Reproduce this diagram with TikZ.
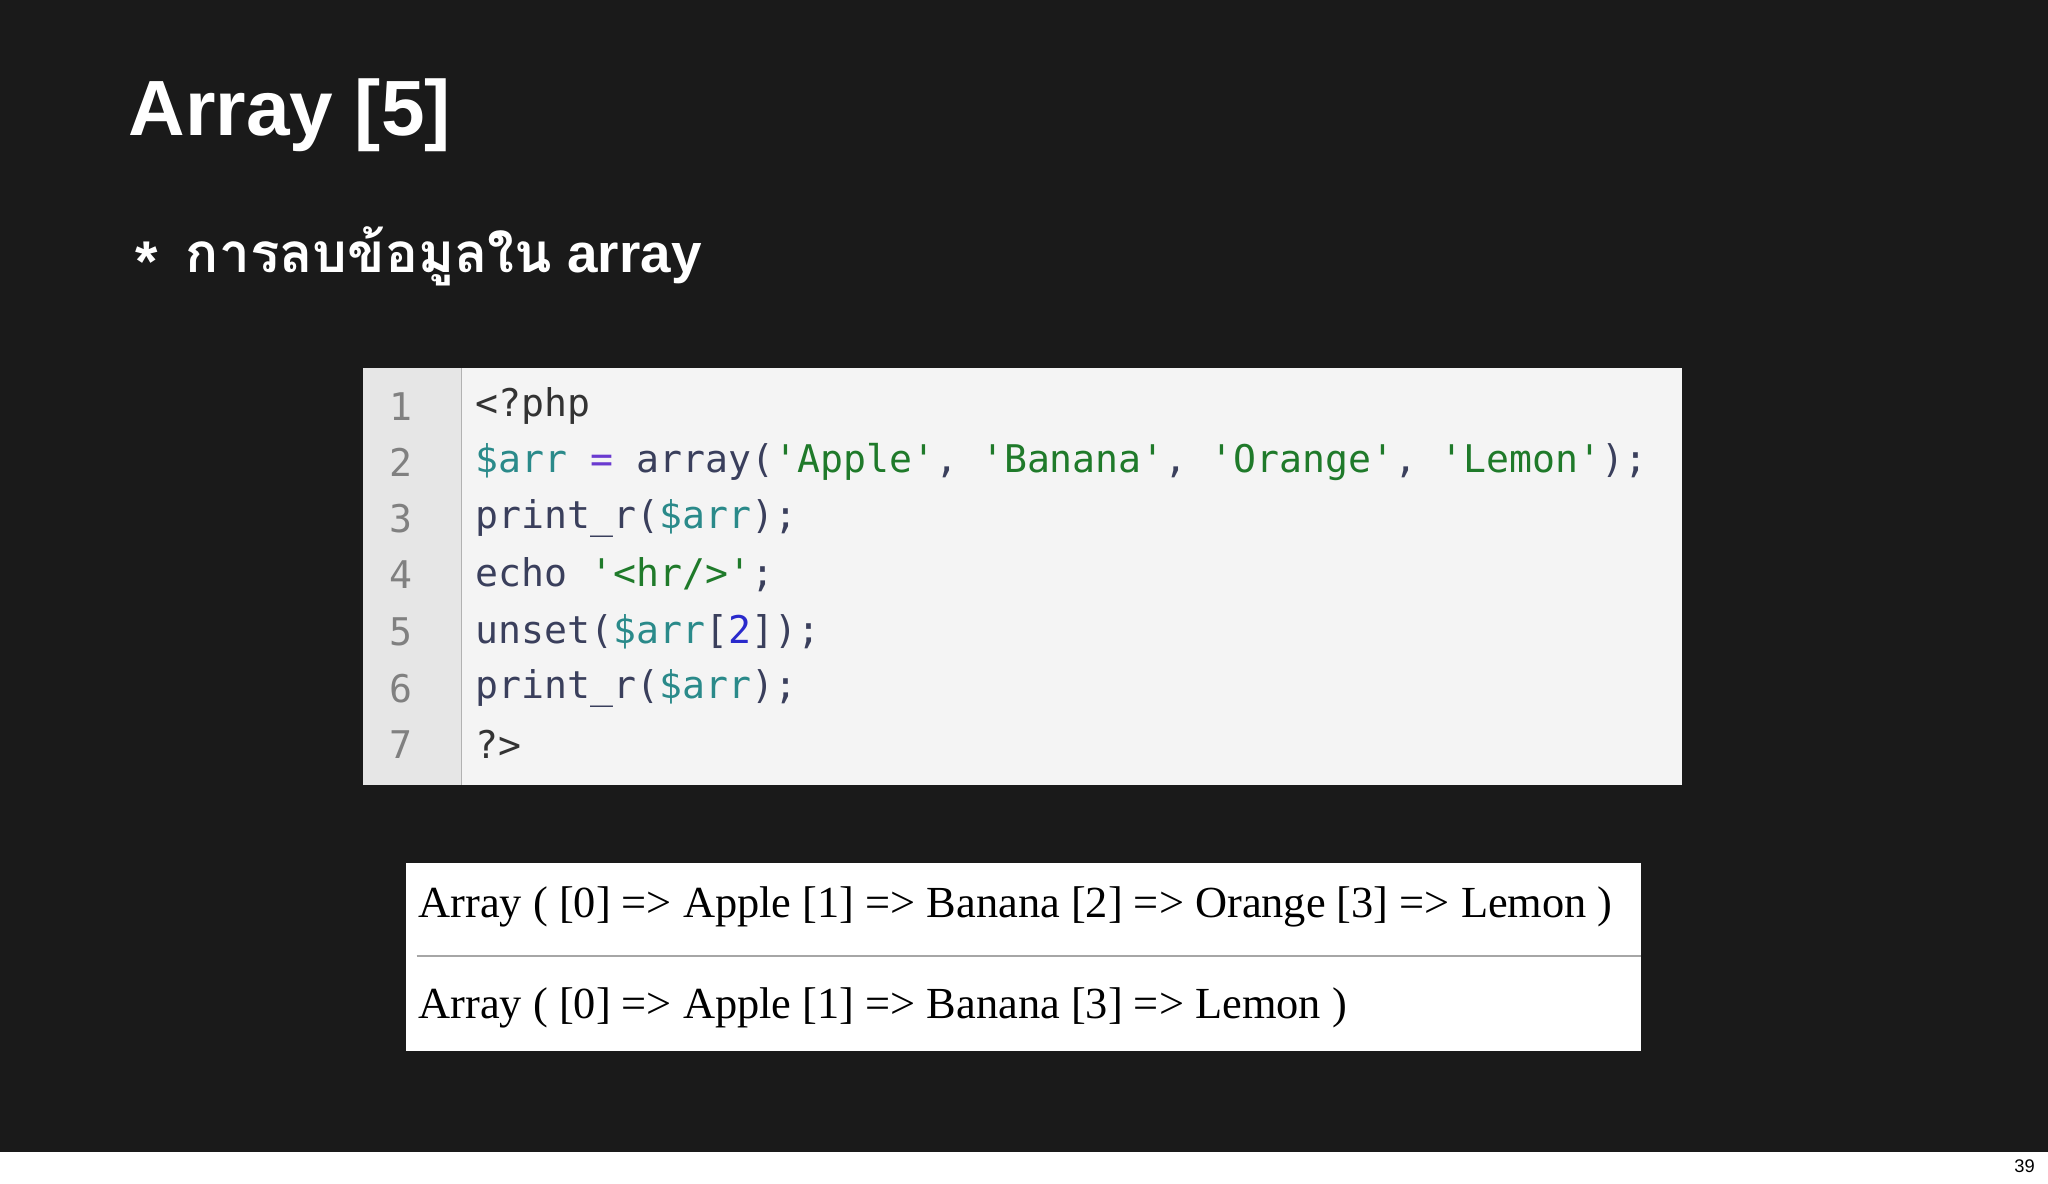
\documentclass[tikz,border=0pt]{standalone}
\usepackage{fontspec}
\setmainfont{Liberation Sans}
\newfontfamily\thaifont[Script=Thai]{Loma}
\newfontfamily\codefont{DejaVu Sans Mono}
\newfontfamily\outfont{Liberation Serif}
\definecolor{bgdark}{HTML}{1A1A1A}
\definecolor{cdef}{HTML}{3A3F5C}
\definecolor{cvar}{HTML}{2A8A8A}
\definecolor{cstr}{HTML}{1F7A2A}
\definecolor{cnum}{HTML}{2A2ACC}
\definecolor{cop}{HTML}{6A3AD0}
\definecolor{gut}{HTML}{E6E6E6}
\definecolor{codebg}{HTML}{F4F4F4}
\tikzset{codeline/.style={anchor=west,inner sep=0pt,font=\codefont\fontsize{14.6}{16}\selectfont,text=cdef},
lnum/.style={anchor=center,inner sep=0pt,font=\codefont\fontsize{14.6}{16}\selectfont,text=gray},
outline/.style={anchor=west,inner sep=0pt,font=\outfont\fontsize{17}{18}\selectfont,text=black}}
\begin{document}
\begin{tikzpicture}[x=0.5pt,y=-0.5pt]
\useasboundingbox (0,0) rectangle (1568,906);
\fill[white] (0,0) rectangle (1568,906);
\fill[bgdark] (0,0) rectangle (1568,882);
\node[anchor=west,inner sep=0pt,text=white,font=\bfseries\fontsize{30}{36}\selectfont] (title) at (98,88) {Array [5]};
\node[inner sep=0pt,text=white,font=\fontsize{22}{22}\selectfont] (bul) at (112,200) {\textbf{*}};
\node[anchor=west,inner sep=0pt,text=white,font=\fontsize{21}{26}\selectfont] (sub) at (142,196) {{\thaifont\bfseries การลบข้อมูลใน} \textbf{array}};
% code box
\fill[codebg] (278,282) rectangle (1288,601);
\fill[gut] (278,282) rectangle (353,601);
\draw[gray!60] (353,282) -- (353,601);
\node[lnum] (n1) at (307,311) {1};
\node[lnum] (n2) at (307,354) {2};
\node[lnum] (n3) at (307,397) {3};
\node[lnum] (n4) at (307,440) {4};
\node[lnum] (n5) at (307,484) {5};
\node[lnum] (n6) at (307,527) {6};
\node[lnum] (n7) at (307,570) {7};
\node[codeline,text=black!80] (c1) at (364,311) {<?php};
\node[codeline] (c2) at (364,354) {\textcolor{cvar}{\$arr} \textcolor{cop}{=} array(\textcolor{cstr}{'Apple'}, \textcolor{cstr}{'Banana'}, \textcolor{cstr}{'Orange'}, \textcolor{cstr}{'Lemon'});};
\node[codeline] (c3) at (364,397) {print\_r(\textcolor{cvar}{\$arr});};
\node[codeline] (c4) at (364,440) {echo \textcolor{cstr}{'<hr/>'};};
\node[codeline] (c5) at (364,484) {unset(\textcolor{cvar}{\$arr}[\textcolor{cnum}{2}]);};
\node[codeline] (c6) at (364,527) {print\_r(\textcolor{cvar}{\$arr});};
\node[codeline,text=black!80] (c7) at (364,570) {?>};
% output box
\fill[white] (311,661) rectangle (1256,805);
\draw[gray!70,line width=1pt] (319,732) -- (1256,732);
\node[outline] (o1) at (320,694) {Array ( [0] => Apple [1] => Banana [2] => Orange [3] => Lemon )};
\node[outline] (o2) at (320,772) {Array ( [0] => Apple [1] => Banana [3] => Lemon )};
\node[inner sep=0pt,font=\fontsize{7}{8}\selectfont] (pg) at (1550,893) {39};
\end{tikzpicture}
\end{document}
